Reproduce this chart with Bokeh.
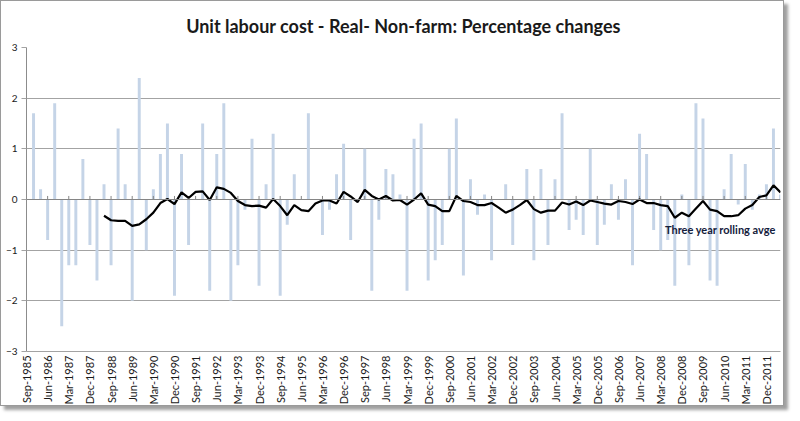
import math
from bokeh.plotting import figure
from bokeh.models import Range1d, FixedTicker, Span, Label, ColumnDataSource
from bokeh.embed import file_html
from bokeh.resources import INLINE

NaN = float("nan")

# Quarterly categories, Sep-1985 .. Jun-2012
categories = [
    "Sep-1985", "Dec-1985",
    "Mar-1986", "Jun-1986", "Sep-1986", "Dec-1986",
    "Mar-1987", "Jun-1987", "Sep-1987", "Dec-1987",
    "Mar-1988", "Jun-1988", "Sep-1988", "Dec-1988",
    "Mar-1989", "Jun-1989", "Sep-1989", "Dec-1989",
    "Mar-1990", "Jun-1990", "Sep-1990", "Dec-1990",
    "Mar-1991", "Jun-1991", "Sep-1991", "Dec-1991",
    "Mar-1992", "Jun-1992", "Sep-1992", "Dec-1992",
    "Mar-1993", "Jun-1993", "Sep-1993", "Dec-1993",
    "Mar-1994", "Jun-1994", "Sep-1994", "Dec-1994",
    "Mar-1995", "Jun-1995", "Sep-1995", "Dec-1995",
    "Mar-1996", "Jun-1996", "Sep-1996", "Dec-1996",
    "Mar-1997", "Jun-1997", "Sep-1997", "Dec-1997",
    "Mar-1998", "Jun-1998", "Sep-1998", "Dec-1998",
    "Mar-1999", "Jun-1999", "Sep-1999", "Dec-1999",
    "Mar-2000", "Jun-2000", "Sep-2000", "Dec-2000",
    "Mar-2001", "Jun-2001", "Sep-2001", "Dec-2001",
    "Mar-2002", "Jun-2002", "Sep-2002", "Dec-2002",
    "Mar-2003", "Jun-2003", "Sep-2003", "Dec-2003",
    "Mar-2004", "Jun-2004", "Sep-2004", "Dec-2004",
    "Mar-2005", "Jun-2005", "Sep-2005", "Dec-2005",
    "Mar-2006", "Jun-2006", "Sep-2006", "Dec-2006",
    "Mar-2007", "Jun-2007", "Sep-2007", "Dec-2007",
    "Mar-2008", "Jun-2008", "Sep-2008", "Dec-2008",
    "Mar-2009", "Jun-2009", "Sep-2009", "Dec-2009",
    "Mar-2010", "Jun-2010", "Sep-2010", "Dec-2010",
    "Mar-2011", "Jun-2011", "Sep-2011", "Dec-2011",
    "Mar-2012", "Jun-2012",
]

tick_labels = [
    "Sep-1985", "Jun-1986", "Mar-1987", "Dec-1987", "Sep-1988", "Jun-1989",
    "Mar-1990", "Dec-1990", "Sep-1991", "Jun-1992", "Mar-1993", "Dec-1993",
    "Sep-1994", "Jun-1995", "Mar-1996", "Dec-1996", "Sep-1997", "Jun-1998",
    "Mar-1999", "Dec-1999", "Sep-2000", "Jun-2001", "Mar-2002", "Dec-2002",
    "Sep-2003", "Jun-2004", "Mar-2005", "Dec-2005", "Sep-2006", "Jun-2007",
    "Mar-2008", "Dec-2008", "Sep-2009", "Jun-2010", "Mar-2011", "Dec-2011",
]

# Quarterly percentage change (first quarter has no value)
pct_change = [
    NaN, 1.7, 0.2, -0.8, 1.9, -2.5, -1.3, -1.3, 0.8, -0.9,
    -1.6, 0.3, -1.3, 1.4, 0.3, -2.0, 2.4, -1.0, 0.2, 0.9,
    1.5, -1.9, 0.9, -0.9, 0.0, 1.5, -1.8, 0.9, 1.9, -2.0,
    -1.3, -0.2, 1.2, -1.7, 0.3, 1.3, -1.9, -0.5, 0.5, 0.0,
    1.7, 0.0, -0.7, -0.2, 0.5, 1.1, -0.8, 0.0, 1.0, -1.8,
    -0.4, 0.6, 0.5, 0.1, -1.8, 1.2, 1.5, -1.6, -1.2, -0.9,
    1.0, 1.6, -1.5, 0.4, -0.3, 0.1, -1.2, 0.0, 0.3, -0.9,
    0.0, 0.6, -1.2, 0.6, -0.9, 0.4, 1.7, -0.6, -0.4, -0.7,
    1.0, -0.9, -0.5, 0.3, -0.4, 0.4, -1.3, 1.3, 0.9, -0.6,
    -1.0, -0.8, -1.7, 0.1, -1.3, 1.9, 1.6, -1.6, -1.7, 0.2,
    0.9, -0.1, 0.7, -0.2, 0.1, 0.3, 1.4, 0.1,
]

# Three year rolling average
rolling_avg = [
    NaN, NaN, NaN, NaN, NaN, NaN, NaN, NaN, NaN, NaN,
    NaN, -0.32, -0.41, -0.42, -0.42, -0.52, -0.49, -0.39, -0.26, -0.07,
    0.01, -0.09, 0.14, 0.03, 0.15, 0.16, -0.01, 0.24, 0.21, 0.13,
    -0.03, -0.11, -0.13, -0.12, -0.16, 0.01, -0.13, -0.31, -0.11, -0.21,
    -0.23, -0.08, -0.02, -0.02, -0.08, 0.15, 0.06, -0.05, 0.19, 0.07,
    0.0, 0.07, -0.02, -0.01, -0.10, 0.0, 0.12, -0.10, -0.13, -0.23,
    -0.23, 0.07, -0.03, -0.05, -0.11, -0.11, -0.07, -0.16, -0.26, -0.20,
    -0.11, -0.01, -0.19, -0.26, -0.22, -0.22, -0.06, -0.10, -0.04, -0.11,
    -0.02, -0.05, -0.08, -0.10, -0.03, -0.05, -0.09, 0.0, -0.07, -0.07,
    -0.11, -0.13, -0.36, -0.26, -0.33, -0.18, -0.03, -0.20, -0.23, -0.33,
    -0.33, -0.31, -0.18, -0.11, 0.05, 0.08, 0.28, 0.14,
]

y_ticks = [-3, -2, -1, 0, 1, 2, 3]

idx = list(range(len(categories)))
tick_pos = [categories.index(t) for t in tick_labels]

src = ColumnDataSource(dict(x=idx, chg=pct_change, avg=rolling_avg))

FONT = "Lato"
GRID = "#a3a3a3"

p = figure(
    width=784, height=406,
    x_range=Range1d(0, len(categories) - 1),
    y_range=Range1d(y_ticks[0], y_ticks[-1]),
    output_backend="svg", toolbar_location=None,
    min_border_left=25, min_border_right=5, min_border_top=46, min_border_bottom=56,
    background_fill_color="white", border_fill_color="white",
)
p.styles = {"border": "1px solid #9a9a9a", "box-shadow": "4px 4px 3px #a0a0a0"}

p.title.text = "Unit labour cost - Real- Non-farm: Percentage changes"
p.title.align = "center"
p.title.text_font = FONT
p.title.text_font_size = "18px"
p.title.text_font_style = "bold"
p.title.text_color = "#1a1a1a"
p.title.standoff = 22

p.outline_line_color = None
p.xgrid.grid_line_color = None
p.ygrid.ticker = FixedTicker(ticks=y_ticks)
p.ygrid.grid_line_color = GRID
p.ygrid.grid_line_width = 1

p.vbar(x="x", top="chg", bottom=0, width=0.42, source=src,
       fill_color="#c5d4e7", line_color=None)

zero = Span(location=0, dimension="width", line_color="#858585", line_width=1)
p.add_layout(zero)
p.segment(x0=tick_pos, y0=[0] * len(tick_pos), x1=tick_pos, y1=[0.07] * len(tick_pos),
          line_color="#858585", line_width=1)

p.line(x="x", y="avg", source=src, line_color="black", line_width=2.2)

p.add_layout(Label(x=90.6, y=-0.59, text="Three year rolling avge",
                   text_font=FONT, text_font_size="11px", text_font_style="bold",
                   text_color="#14203c", text_baseline="middle", text_align="left"))

# axes
p.xaxis.ticker = FixedTicker(ticks=tick_pos)
p.xaxis.major_label_overrides = {pos: lbl for pos, lbl in zip(tick_pos, tick_labels)}
p.xaxis.major_label_orientation = math.pi / 2
p.xaxis.major_label_text_font = FONT
p.xaxis.major_label_text_font_size = "11px"
p.xaxis.major_label_text_color = "#1a1a1a"
p.xaxis.major_label_standoff = 4
p.xaxis.axis_line_color = GRID
p.xaxis.major_tick_line_color = None
p.xaxis.major_tick_out = 0
p.xaxis.major_tick_in = 0
p.xaxis.minor_tick_line_color = None
p.xaxis.minor_tick_out = 0

p.yaxis.ticker = FixedTicker(ticks=y_ticks)
p.yaxis.major_label_text_font = FONT
p.yaxis.major_label_text_font_size = "10px"
p.yaxis.major_label_text_color = "#1a1a1a"
p.yaxis.axis_line_color = "#8c8c8c"
p.yaxis.major_tick_line_color = GRID
p.yaxis.major_tick_out = 5
p.yaxis.major_tick_in = 0
p.yaxis.minor_tick_line_color = None
p.yaxis.major_label_standoff = 4

open("out.html", "w").write(file_html(p, INLINE))
